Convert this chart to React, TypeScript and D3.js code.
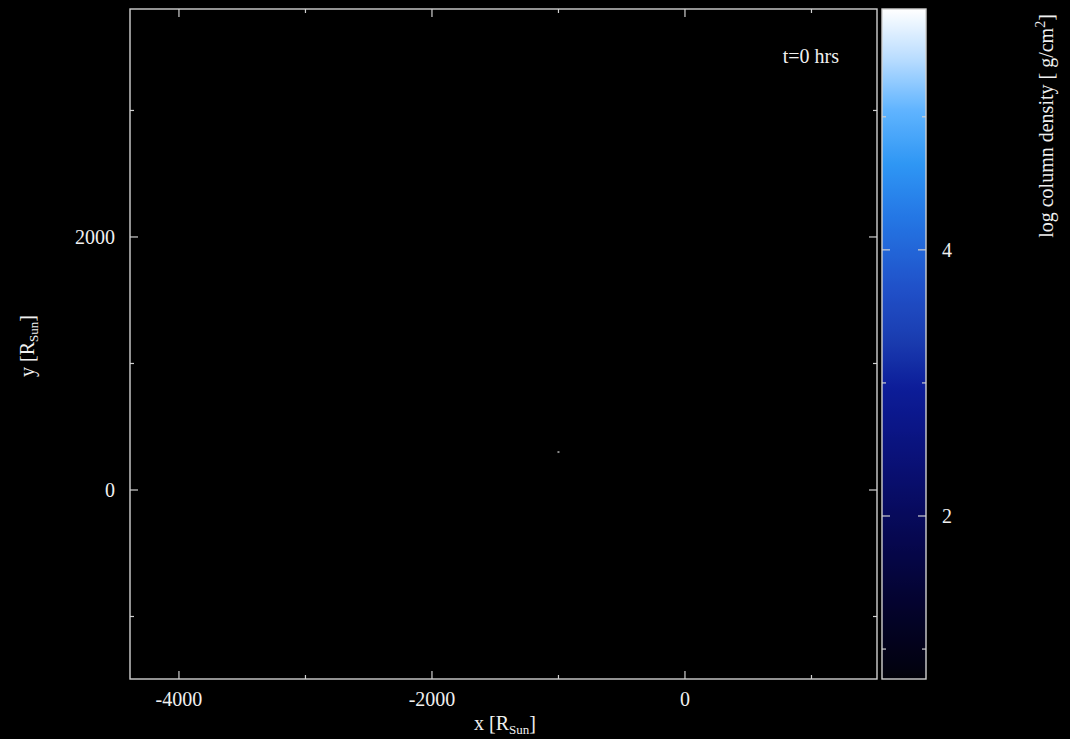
import React, { useEffect } from "react";
import * as d3 from "d3";

// Axis domains (R_sun) and colour-bar range (log g/cm^2)
const xDomain = [-4387, 1518];
const yDomain = [-1494, 3802];
const cDomain = [0.775, 5.81];

const xMajorTicks = [-4000, -2000, 0];
const xMinorTicks = [-3000, -1000, 1000];
const yMajorTicks = [0, 2000];
const yMinorTicks = [-1000, 1000, 3000];
const cMajorTicks = [2, 4];
const cMinorTicks = [1, 3, 5];

// Colour map stops: log column density -> colour
const cStopValues = [0.775, 0.84, 1.37, 1.89, 2.5, 2.95, 3.32, 3.7, 4.23, 4.64, 5.05, 5.43, 5.81];
const cStopColors = [
  "#010108", "#020210", "#040330", "#060854", "#0a127c", "#0c1c98", "#1a3cb0",
  "#2050c8", "#2476e4", "#2e96f4", "#60b4ff", "#b8dcff", "#ffffff",
];

// Particles rendered in the density map (x, y in R_sun)
const particleX = [-1000];
const particleY = [300];

const timeLabel = "t=0 hrs";

const W = 1070;
const H = 739;
const plot = { left: 130, right: 877, top: 9, bottom: 679 };
const cbar = { left: 882, right: 926 };
const axisColor = "#d0d0d0";
const font = "'Liberation Serif', 'Times New Roman', serif";

export default function App() {
  useEffect(() => {
    document.body.style.margin = "0";
    document.body.style.background = "#000";
  }, []);

  const x = d3.scaleLinear().domain(xDomain).range([plot.left, plot.right]);
  const y = d3.scaleLinear().domain(yDomain).range([plot.bottom, plot.top]);
  const c = d3.scaleLinear().domain(cDomain).range([plot.bottom, plot.top]);
  const color = d3.scaleLinear<string>().domain(cStopValues).range(cStopColors);

  const gradStops = d3.range(0, 101).map((i) => {
    const v = cDomain[0] + ((cDomain[1] - cDomain[0]) * i) / 100;
    return { offset: i, col: color(v) };
  });

  const major = 8;
  const minor = 4;

  return (
    <svg width={W} height={H} style={{ display: "block", background: "#000" }} fontFamily={font}>
      <defs>
        <linearGradient id="cmap" x1="0" y1="1" x2="0" y2="0">
          {gradStops.map((s) => (
            <stop key={s.offset} offset={`${s.offset}%`} stopColor={s.col} />
          ))}
        </linearGradient>
      </defs>
      <rect x={0} y={0} width={W} height={H} fill="#000" />

      {/* particles */}
      {particleX.map((px, i) => (
        <rect key={i} x={x(px) - 1} y={y(particleY[i]) - 1} width={2} height={2} fill="#8a8a8a" />
      ))}

      {/* x ticks, bottom and top */}
      <g stroke={axisColor} strokeWidth={1.2}>
        {xMajorTicks.map((t) => (
          <g key={`xm${t}`}>
            <line x1={x(t)} x2={x(t)} y1={plot.bottom} y2={plot.bottom - major} />
            <line x1={x(t)} x2={x(t)} y1={plot.top} y2={plot.top + major} />
          </g>
        ))}
        {xMinorTicks.map((t) => (
          <g key={`xn${t}`}>
            <line x1={x(t)} x2={x(t)} y1={plot.bottom} y2={plot.bottom - minor} />
            <line x1={x(t)} x2={x(t)} y1={plot.top} y2={plot.top + minor} />
          </g>
        ))}
        {yMajorTicks.map((t) => (
          <g key={`ym${t}`}>
            <line x1={plot.left} x2={plot.left + major} y1={y(t)} y2={y(t)} />
            <line x1={plot.right} x2={plot.right - major} y1={y(t)} y2={y(t)} />
          </g>
        ))}
        {yMinorTicks.map((t) => (
          <g key={`yn${t}`}>
            <line x1={plot.left} x2={plot.left + minor} y1={y(t)} y2={y(t)} />
            <line x1={plot.right} x2={plot.right - minor} y1={y(t)} y2={y(t)} />
          </g>
        ))}
      </g>

      {/* plot frame */}
      <rect
        x={plot.left}
        y={plot.top}
        width={plot.right - plot.left}
        height={plot.bottom - plot.top}
        fill="none"
        stroke={axisColor}
        strokeWidth={1.4}
      />

      {/* tick labels */}
      <g fill="#f0f0f0" fontSize={20}>
        {xMajorTicks.map((t) => (
          <text key={`xl${t}`} x={x(t)} y={706} textAnchor="middle">
            {t}
          </text>
        ))}
        {yMajorTicks.map((t) => (
          <text key={`yl${t}`} x={115} y={y(t) + 7} textAnchor="end">
            {t}
          </text>
        ))}
      </g>

      {/* axis titles */}
      <text x={505} y={730} textAnchor="middle" fill="#f0f0f0" fontSize={20}>
        x [R<tspan fontSize={13} dy={4}>Sun</tspan>
        <tspan dy={-4}>]</tspan>
      </text>
      <text
        transform={`translate(34, ${346}) rotate(-90)`}
        textAnchor="middle"
        fill="#f0f0f0"
        fontSize={20}
      >
        y [R<tspan fontSize={13} dy={4}>Sun</tspan>
        <tspan dy={-4}>]</tspan>
      </text>

      <text x={839} y={63} textAnchor="end" fill="#f0f0f0" fontSize={20}>
        {timeLabel}
      </text>

      {/* colour bar */}
      <rect
        x={cbar.left}
        y={plot.top}
        width={cbar.right - cbar.left}
        height={plot.bottom - plot.top}
        fill="url(#cmap)"
      />
      <g stroke={axisColor} strokeWidth={1.2}>
        {cMajorTicks.map((t) => (
          <g key={`cm${t}`}>
            <line x1={cbar.left} x2={cbar.left + major} y1={c(t)} y2={c(t)} />
            <line x1={cbar.right} x2={cbar.right - major} y1={c(t)} y2={c(t)} />
          </g>
        ))}
        {cMinorTicks.map((t) => (
          <g key={`cn${t}`}>
            <line x1={cbar.left} x2={cbar.left + minor} y1={c(t)} y2={c(t)} />
            <line x1={cbar.right} x2={cbar.right - minor} y1={c(t)} y2={c(t)} />
          </g>
        ))}
      </g>
      <rect
        x={cbar.left}
        y={plot.top}
        width={cbar.right - cbar.left}
        height={plot.bottom - plot.top}
        fill="none"
        stroke={axisColor}
        strokeWidth={1.4}
      />
      <g fill="#f0f0f0" fontSize={20}>
        {cMajorTicks.map((t) => (
          <text key={`cl${t}`} x={942} y={c(t) + 7} textAnchor="start">
            {t}
          </text>
        ))}
      </g>
      <text
        transform={`translate(1053, 126) rotate(-90)`}
        textAnchor="middle"
        fill="#f0f0f0"
        fontSize={20}
      >
        log column density [ g/cm<tspan fontSize={14} dy={-8}>2</tspan>
        <tspan dy={8}>]</tspan>
      </text>
    </svg>
  );
}
